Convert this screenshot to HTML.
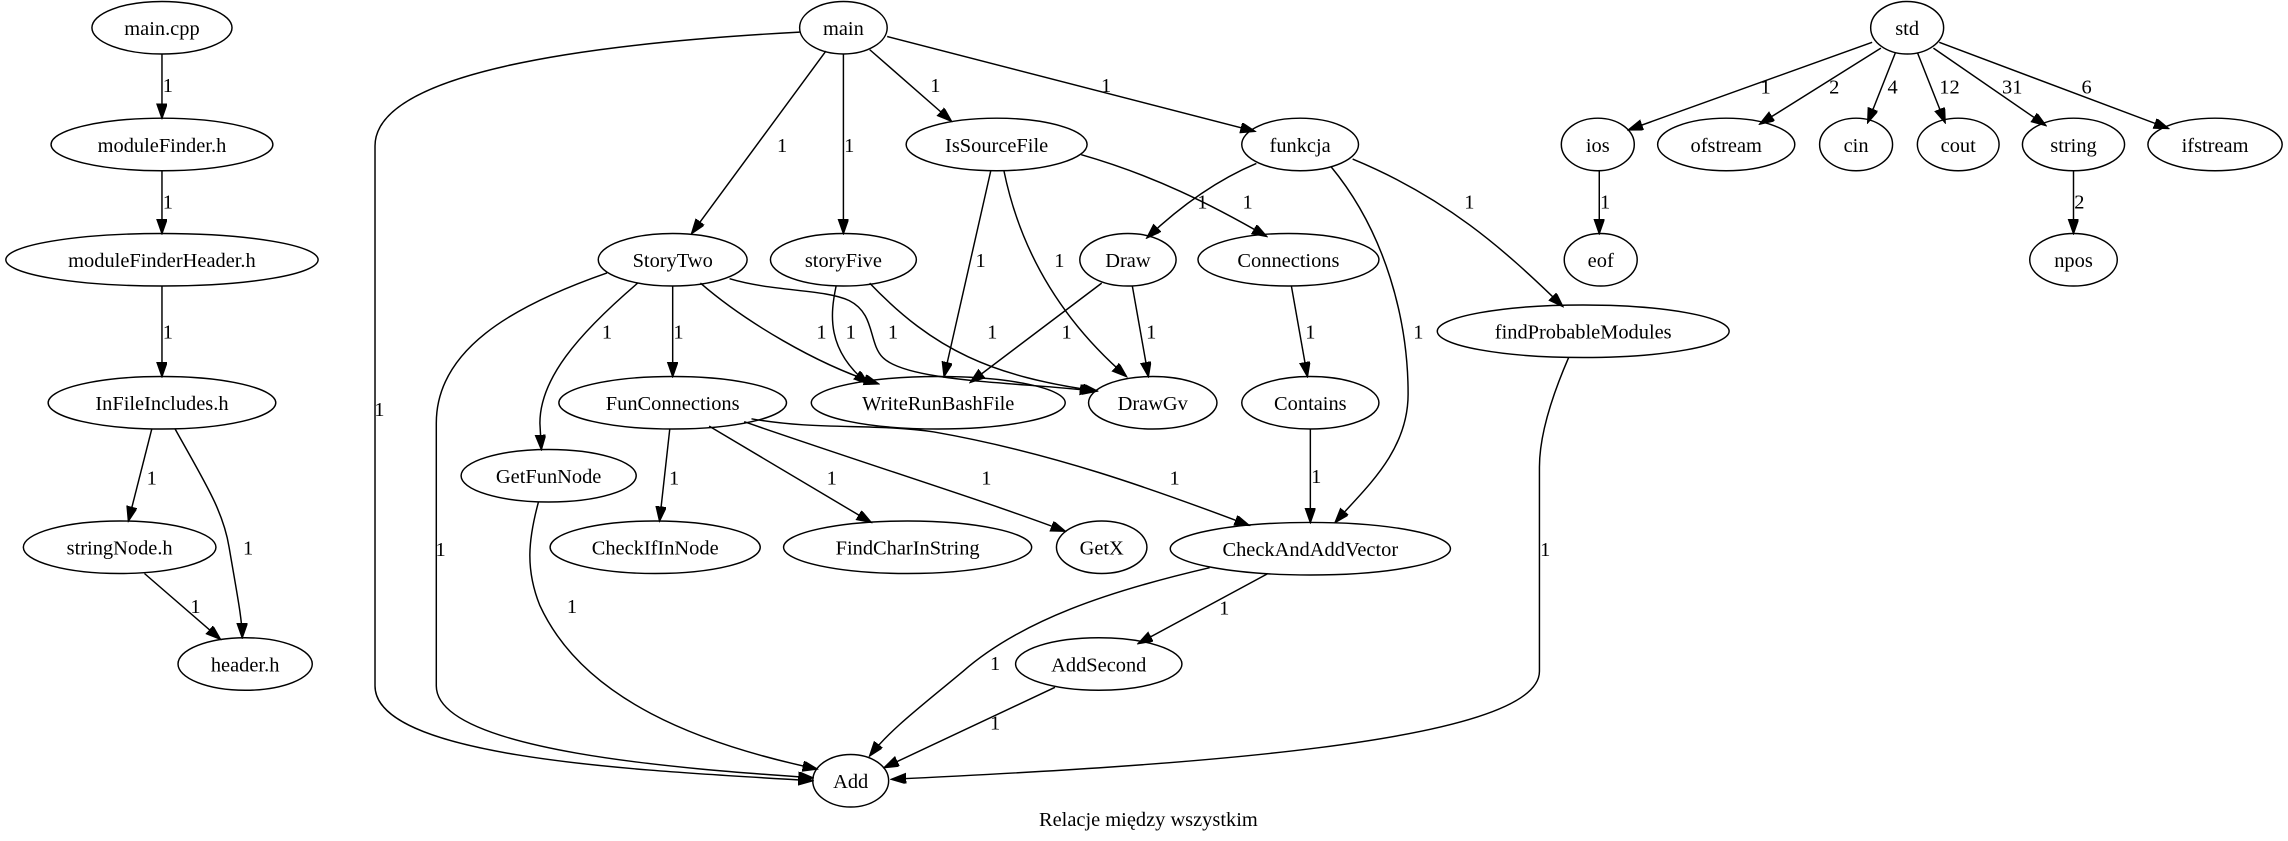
<!DOCTYPE html>
<html><head><meta charset="utf-8"><style>
html,body{margin:0;padding:0;background:#fff;}
svg{display:block;}
text{font-family:"Liberation Serif",serif;font-size:14px;fill:#000;text-anchor:middle;}
ellipse{fill:none;stroke:#000;stroke-width:1;}
path.e{fill:none;stroke:#000;stroke-width:1;marker-end:url(#a);}
</style></head><body>
<svg width="2288" height="841" viewBox="0 0 1568 576.3" preserveAspectRatio="none" xmlns="http://www.w3.org/2000/svg">
<defs><marker id="a" markerUnits="userSpaceOnUse" markerWidth="11" markerHeight="8" refX="10" refY="3.5" orient="auto"><path d="M0,0 L10,3.5 L0,7 z" fill="#000" stroke="#000" stroke-width="1"/></marker></defs>
<rect width="1568" height="577" fill="#fff"/>

<!-- nodes -->
<ellipse cx="111" cy="19" rx="48" ry="18"/><text x="111" y="24">main.cpp</text>
<ellipse cx="111" cy="99" rx="76" ry="18"/><text x="111" y="104">moduleFinder.h</text>
<ellipse cx="111" cy="178" rx="107" ry="18"/><text x="111" y="183">moduleFinderHeader.h</text>
<ellipse cx="111" cy="276" rx="78" ry="18"/><text x="111" y="281">InFileIncludes.h</text>
<ellipse cx="82" cy="375" rx="66" ry="18"/><text x="82" y="380">stringNode.h</text>
<ellipse cx="168" cy="455" rx="46" ry="18"/><text x="168" y="460">header.h</text>

<ellipse cx="578" cy="19" rx="30" ry="18"/><text x="578" y="24">main</text>
<ellipse cx="683" cy="99" rx="62" ry="18"/><text x="683" y="104">IsSourceFile</text>
<ellipse cx="891" cy="99" rx="40" ry="18"/><text x="891" y="104">funkcja</text>
<ellipse cx="461" cy="178" rx="51" ry="18"/><text x="461" y="183">StoryTwo</text>
<ellipse cx="578" cy="178" rx="50" ry="18"/><text x="578" y="183">storyFive</text>
<ellipse cx="773" cy="178" rx="33" ry="18"/><text x="773" y="183">Draw</text>
<ellipse cx="883" cy="178" rx="62" ry="18"/><text x="883" y="183">Connections</text>
<ellipse cx="1085" cy="227" rx="100" ry="18"/><text x="1085" y="232">findProbableModules</text>
<ellipse cx="461" cy="276" rx="78" ry="18"/><text x="461" y="281">FunConnections</text>
<ellipse cx="643" cy="276" rx="87" ry="18"/><text x="643" y="281">WriteRunBashFile</text>
<ellipse cx="790" cy="276" rx="44" ry="18"/><text x="790" y="281">DrawGv</text>
<ellipse cx="898" cy="276" rx="47" ry="18"/><text x="898" y="281">Contains</text>
<ellipse cx="376" cy="326" rx="60" ry="18"/><text x="376" y="331">GetFunNode</text>
<ellipse cx="449" cy="375" rx="72" ry="18"/><text x="449" y="380">CheckIfInNode</text>
<ellipse cx="622" cy="375" rx="85" ry="18"/><text x="622" y="380">FindCharInString</text>
<ellipse cx="755" cy="375" rx="31" ry="18"/><text x="755" y="380">GetX</text>
<ellipse cx="898" cy="376" rx="96" ry="18"/><text x="898" y="381">CheckAndAddVector</text>
<ellipse cx="753" cy="455" rx="57" ry="18"/><text x="753" y="460">AddSecond</text>
<ellipse cx="583" cy="535" rx="26" ry="18"/><text x="583" y="540">Add</text>

<ellipse cx="1307" cy="19" rx="25" ry="18"/><text x="1307" y="24">std</text>
<ellipse cx="1095" cy="99" rx="25" ry="18"/><text x="1095" y="104">ios</text>
<ellipse cx="1183" cy="99" rx="47" ry="18"/><text x="1183" y="104">ofstream</text>
<ellipse cx="1272" cy="99" rx="25" ry="18"/><text x="1272" y="104">cin</text>
<ellipse cx="1342" cy="99" rx="28" ry="18"/><text x="1342" y="104">cout</text>
<ellipse cx="1421" cy="99" rx="35" ry="18"/><text x="1421" y="104">string</text>
<ellipse cx="1518" cy="99" rx="46" ry="18"/><text x="1518" y="104">ifstream</text>
<ellipse cx="1097" cy="178" rx="25" ry="18"/><text x="1097" y="183">eof</text>
<ellipse cx="1421" cy="178" rx="30" ry="18"/><text x="1421" y="183">npos</text>

<!-- edges -->
<path class="e" d="M111,37 L111,81"/><text x="115" y="63">1</text>
<path class="e" d="M111,117 L111,160"/><text x="115" y="143">1</text>
<path class="e" d="M111,196 L111,258"/><text x="115" y="232">1</text>
<path class="e" d="M104,294 L88,357"/><text x="104" y="332">1</text>
<path class="e" d="M120,294 C140,330 153,350 157,375 C163,410 166,425 166,437"/><text x="170" y="380">1</text>
<path class="e" d="M99,393 L151,438"/><text x="134" y="420">1</text>

<path class="e" d="M566,35 L474,160"/><text x="536" y="104">1</text>
<path class="e" d="M578,37 L578,160"/><text x="582" y="104">1</text>
<path class="e" d="M596,34 L652,83"/><text x="641" y="63">1</text>
<path class="e" d="M608,25 L860,90"/><text x="758" y="63">1</text>
<path class="e" d="M548,22 C400,30 257,50 257,100 L257,470 C257,520 440,528 557,535"/><text x="260" y="285">1</text>
<path class="e" d="M416,187 C350,210 299,240 299,290 L299,470 C299,515 470,527 557,533"/><text x="302" y="381">1</text>
<path class="e" d="M437,194 C395,230 370,260 370,290 L371,308"/><text x="416" y="232">1</text>
<path class="e" d="M461,196 L461,258"/><text x="465" y="232">1</text>
<path class="e" d="M480,194 C510,220 560,250 602,263"/><text x="563" y="232">1</text>
<path class="e" d="M500,191 C530,200 565,198 582,206 C600,215 595,235 605,245 C622,262 700,262 750,268"/><text x="612" y="232">1</text>
<path class="e" d="M573,196 C569,215 566,240 595,263"/><text x="583" y="232">1</text>
<path class="e" d="M596,194 C640,240 680,258 752,268"/><text x="680" y="232">1</text>
<path class="e" d="M679,117 L647,258"/><text x="672" y="183">1</text>
<path class="e" d="M688,117 Q705,200 772,258"/><text x="726" y="183">1</text>
<path class="e" d="M741,106 C790,120 830,140 868,162"/><text x="855" y="143">1</text>
<path class="e" d="M861,112 C830,125 805,145 786,163"/><text x="824" y="143">1</text>
<path class="e" d="M912,114 C950,160 965,220 965,270 C965,310 935,335 915,358"/><text x="972" y="232">1</text>
<path class="e" d="M927,109 C990,135 1030,170 1071,210"/><text x="1007" y="143">1</text>
<path class="e" d="M755,194 L665,262"/><text x="731" y="232">1</text>
<path class="e" d="M776,196 L787,258"/><text x="789" y="232">1</text>
<path class="e" d="M885,196 L896,258"/><text x="898" y="232">1</text>
<path class="e" d="M898,294 L898,358"/><text x="902" y="331">1</text>
<path class="e" d="M1075,245 C1062,275 1055,300 1055,320 L1055,460 C1055,510 800,525 611,534"/><text x="1059" y="381">1</text>
<path class="e" d="M459,294 L452,357"/><text x="462" y="332">1</text>
<path class="e" d="M486,292 L597,358"/><text x="570" y="332">1</text>
<path class="e" d="M510,289 C600,320 680,345 730,364"/><text x="676" y="332">1</text>
<path class="e" d="M515,287 C560,295 600,290 640,296 C720,310 790,335 856,360"/><text x="805" y="332">1</text>
<path class="e" d="M369,344 C362,370 360,390 370,415 C400,480 480,510 560,527"/><text x="392" y="420">1</text>
<path class="e" d="M869,393 L780,441"/><text x="839" y="421">1</text>
<path class="e" d="M829,389 C760,405 700,425 660,460 C630,485 610,500 596,518"/><text x="682" y="459">1</text>
<path class="e" d="M723,471 L606,526"/><text x="682" y="500">1</text>

<path class="e" d="M1283,29 L1116,89"/><text x="1210" y="64">1</text>
<path class="e" d="M1289,33 L1206,85"/><text x="1257" y="64">2</text>
<path class="e" d="M1299,36 L1280,84"/><text x="1297" y="64">4</text>
<path class="e" d="M1314,36 L1333,84"/><text x="1336" y="64">12</text>
<path class="e" d="M1325,33 L1402,86"/><text x="1379" y="64">31</text>
<path class="e" d="M1329,29 L1486,88"/><text x="1430" y="64">6</text>
<path class="e" d="M1096,117 L1096,160"/><text x="1100" y="143">1</text>
<path class="e" d="M1421,117 L1421,160"/><text x="1425" y="143">2</text>

<text x="787" y="566">Relacje między wszystkim</text>
</svg>
</body></html>
